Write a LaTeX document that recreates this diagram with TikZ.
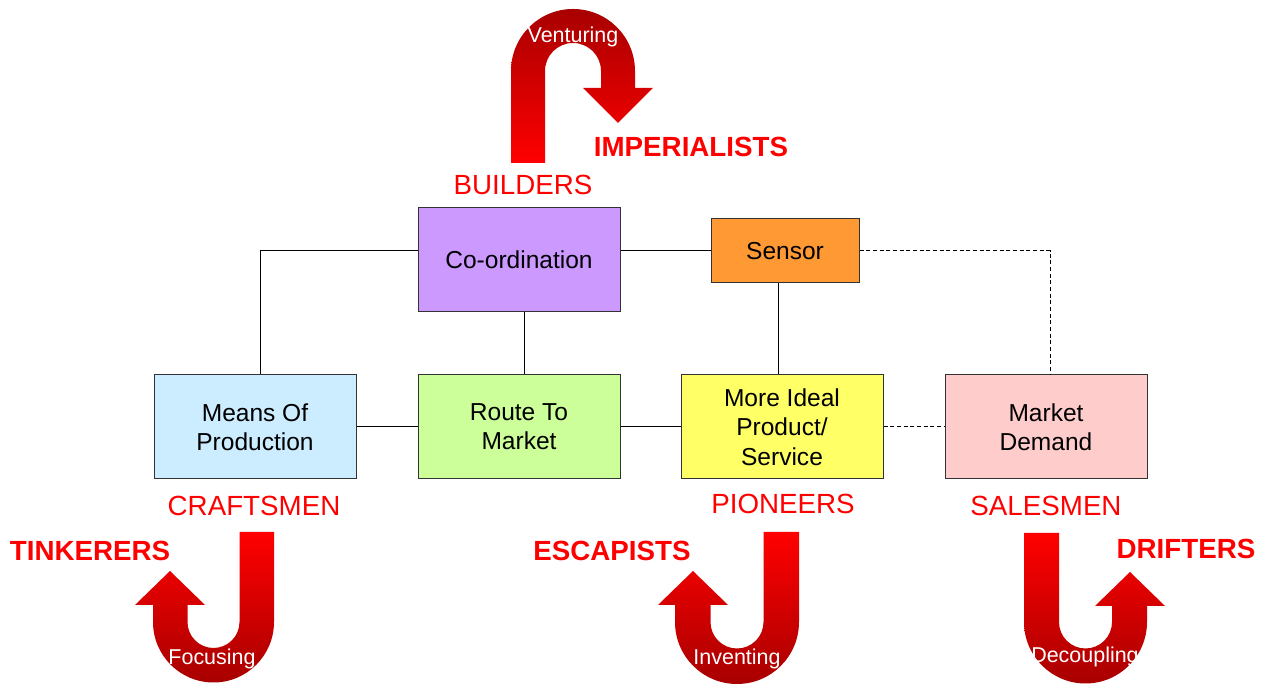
\documentclass[tikz,border=0pt]{standalone}
\usepackage{fontspec}
\setmainfont{Liberation Sans}
\usetikzlibrary{calc}
\definecolor{coordfill}{HTML}{CC99FF}
\definecolor{sensorfill}{HTML}{FF9933}
\definecolor{meansfill}{HTML}{CCECFF}
\definecolor{routefill}{HTML}{CCFF99}
\definecolor{idealfill}{HTML}{FFFF66}
\definecolor{demandfill}{HTML}{FFCCCC}
\definecolor{boxline}{HTML}{333333}
\definecolor{brightred}{HTML}{FF0000}
\definecolor{deepred}{HTML}{A80000}
\begin{document}
\begin{tikzpicture}[x=0.75pt,y=0.75pt,
  box/.style={draw=boxline, line width=0.75pt, minimum width=151.5pt, minimum height=78pt,
    inner sep=0pt, align=center, font=\fontsize{18.4}{22}\selectfont},
  link/.style={draw=black, line width=0.75pt},
  weaklink/.style={link, dash pattern=on 3pt off 2pt},
  role/.style={text=brightred, font=\fontsize{20.8}{25}\selectfont},
  fate/.style={text=brightred, font=\fontsize{20.8}{25}\selectfont\bfseries},
  move/.style={text=white, anchor=base, font=\fontsize{16.1}{19}\selectfont},
  turndown/.style={shade, top color=deepred, bottom color=brightred, draw=none},
  turnup/.style={shade, top color=brightred, bottom color=deepred, draw=none}]
\useasboundingbox (0,0) rectangle (1265,684);

% boxes
\node[box, fill=coordfill] (coord) at (519,424) {Co-ordination};
\node[box, fill=sensorfill, minimum width=111pt, minimum height=48pt] (sensor) at (785,433) {Sensor};
\node[box, fill=meansfill] (means) at (255,257) {Means Of\\Production};
\node[box, fill=routefill] (route) at (519,257) {Route To\\Market};
\node[box, fill=idealfill] (ideal) at (782,257) {More Ideal\\Product/\\Service};
\node[box, fill=demandfill] (demand) at (1046,257) {Market\\Demand};

% connectors
\draw[link] (coord.west |- sensor.west) -| ($(means.north)+(5,0)$);
\draw[link] (coord.east |- sensor.west) -- (sensor.west);
\draw[link] ($(coord.south)+(5,0)$) -- ($(route.north)+(5,0)$);
\draw[link] (means) -- (route);
\draw[link] (route) -- (ideal);
\draw[link] ($(sensor.south)+(-7,0)$) -- ($(ideal.north)+(-4,0)$);
\draw[weaklink] (sensor.east) -| ($(demand.north)+(4,0)$);
\draw[weaklink] (ideal) -- (demand);

% u-turn arrows
\path[turndown] (511,521) -- (511,613) arc[start angle=180,end angle=0,radius=62]
  -- (635,596) -- (653,596) -- (618,561) -- (583,596) -- (601,596) -- (601,613)
  arc[start angle=0,end angle=180,radius=28] -- (545,521) -- cycle;
\path[turnup] (274,152) -- (274,62) arc[start angle=0,end angle=-180,radius=60.5]
  -- (153,79) -- (135,79) -- (170,113) -- (205,79) -- (187.5,79) -- (187.5,62)
  arc[start angle=180,end angle=360,radius=26] -- (239.5,152) -- cycle;
\path[turnup] (799,152) -- (799,62) arc[start angle=0,end angle=-180,radius=62]
  -- (675,79) -- (658,79) -- (693,113) -- (728,79) -- (710.5,79) -- (710.5,62)
  arc[start angle=180,end angle=360,radius=26.5] -- (763.5,152) -- cycle;
\path[turnup] (1024,151) -- (1024,62) arc[start angle=180,end angle=360,radius=61.5]
  -- (1147,78) -- (1165,78) -- (1130,112) -- (1095,78) -- (1112,78) -- (1112,62)
  arc[start angle=0,end angle=-180,radius=26.5] -- (1059,151) -- cycle;

% arrow labels
\node[move] (venturing) at (573,641) {Venturing};
\node[move] (focusing) at (212,19) {Focusing};
\node[move] (inventing) at (737,19) {Inventing};
\node[move] (decoupling) at (1085,21) {Decoupling};

% roles
\node[role] (builders) at (523,499) {BUILDERS};
\node[role] (craftsmen) at (254,178) {CRAFTSMEN};
\node[role] (pioneers) at (783,180) {PIONEERS};
\node[role] (salesmen) at (1046,178) {SALESMEN};

% fates
\node[fate] (imperialists) at (691,537) {IMPERIALISTS};
\node[fate] (tinkerers) at (90,133) {TINKERERS};
\node[fate] (escapists) at (612,133) {ESCAPISTS};
\node[fate] (drifters) at (1186,135) {DRIFTERS};
\end{tikzpicture}
\end{document}
